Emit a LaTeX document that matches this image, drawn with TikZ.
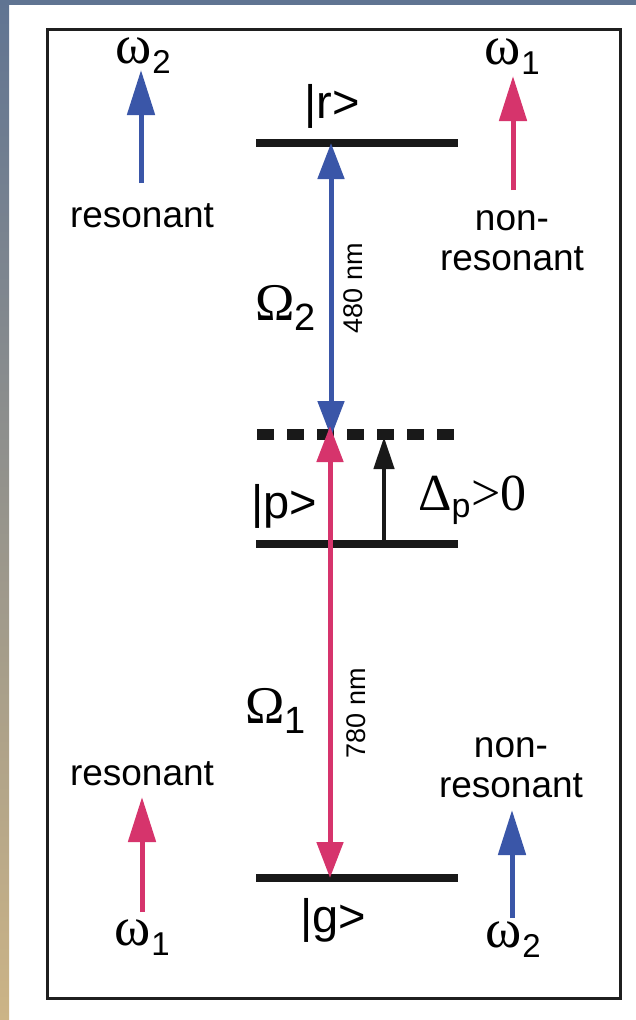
\documentclass[tikz,border=0pt]{standalone}
\usepackage{fontspec}
\setmainfont{Liberation Sans}
\newfontfamily\gr{Liberation Serif}
\usetikzlibrary{arrows.meta}
\definecolor{bl}{RGB}{58,86,168}
\definecolor{pk}{RGB}{214,52,108}
\definecolor{edgetop}{RGB}{96,116,146}
\definecolor{edgemid}{RGB}{154,160,170}
\definecolor{edgebot}{RGB}{204,180,134}
\newcommand{\fs}[1]{\fontsize{#1}{#1}\selectfont}
\newcommand{\omlab}[1]{\gr\fs{55}ω\kern1pt\lower10pt\hbox{\rmfamily\fs{33}#1}}
\tikzset{
  lab/.style={inner sep=0pt, anchor=base, font=\fs{37}},
  statelab/.style={inner sep=0pt, anchor=base west, font=\fs{47}},
  nmlab/.style={inner sep=0pt, anchor=base, font=\fs{27}, rotate=90},
  levelline/.style={line width=7.5pt, black!90},
  dashlevel/.style={line width=11pt, black!90, dash pattern=on 17pt off 13pt},
  dbl/.style={line width=5pt, {Triangle[length=36pt,width=26pt]}-{Triangle[length=36pt,width=26pt]}},
  side/.style={line width=5pt, -{Triangle[length=45pt,width=27pt]}},
  detarr/.style={line width=4.5pt, black!90, -{Triangle[length=32pt,width=20pt]}}
}
\begin{document}
\begin{tikzpicture}[x=1pt,y=-1pt]
\useasboundingbox (0,0) rectangle (636,1020);
\fill[white] (0,0) rectangle (636,1020);
\shade[top color=edgetop, middle color=edgemid, bottom color=edgebot] (0,0) rectangle (9,1020);
\fill[edgetop] (0,0) rectangle (636,5);
\draw[line width=3pt, black!88] (47,29) rectangle (620,998);

% levels
\coordinate (rL) at (256,143); \coordinate (rR) at (458,143);
\coordinate (dL) at (257,434); \coordinate (dR) at (455,434);
\coordinate (pL) at (256,544); \coordinate (pR) at (458,544);
\coordinate (gL) at (256,878); \coordinate (gR) at (458,878);
\draw[levelline] (rL) -- (rR);
\draw[dashlevel] (dL) -- (dR);
\draw[levelline] (pL) -- (pR);
\draw[levelline] (gL) -- (gR);

% central transitions
\coordinate (rC) at (331,143);
\coordinate (dCb) at (331,437);
\coordinate (dCp) at (330,426);
\coordinate (gC) at (330,878);
\draw[dbl, bl] (rC) -- (dCb);
\draw[dbl, pk] (dCp) -- (gC);

% detuning arrow
\coordinate (detS) at (384,544);
\coordinate (detE) at (384,437);
\draw[detarr] (detS) -- (detE);

% side arrows
\coordinate (a1s) at (141,183); \coordinate (a1e) at (141,70);
\coordinate (a2s) at (513,190); \coordinate (a2e) at (513,76);
\coordinate (a3s) at (142,912); \coordinate (a3e) at (142,797);
\coordinate (a4s) at (512,918); \coordinate (a4e) at (512,810);
\draw[side, bl] (a1s) -- (a1e);
\draw[side, pk] (a2s) -- (a2e);
\draw[side, pk] (a3s) -- (a3e);
\draw[side, bl] (a4s) -- (a4e);

% side labels
\node[lab] (resTL) at (142,227) {resonant};
\node[lab] (nonTR) at (512,230) {non-};
\node[lab] (resTR) at (512,270) {resonant};
\node[lab] (resBL) at (142,785) {resonant};
\node[lab] (nonBR) at (511,757) {non-};
\node[lab] (resBR) at (511,797) {resonant};

\node[lab] (w2TL) at (143,63) {\omlab{2}};
\node[lab] (w1TR) at (512,64) {\omlab{1}};
\node[lab] (w1BL) at (142,945) {\omlab{1}};
\node[lab] (w2BR) at (513,947) {\omlab{2}};

% state labels
\node[statelab] (rlab) at (304,118) {|r>};
\node[statelab] (plab) at (251,518) {|p>};
\node[statelab] (glab) at (300,932) {|g>};
\node[inner sep=0pt, anchor=base west] (delta) at (418,510)
  {\gr\fs{52}Δ\lower7pt\hbox{\rmfamily\fs{34}p}\kern1pt>0};

% Rabi labels
\node[inner sep=0pt, anchor=base west] (Om2) at (255,320)
  {\gr\fs{53}Ω\lower10pt\hbox{\rmfamily\fs{38}2}};
\node[inner sep=0pt, anchor=base west] (Om1) at (245,723)
  {\gr\fs{53}Ω\lower10pt\hbox{\rmfamily\fs{38}1}};

% wavelengths
\node[nmlab] (nm480) at (362,288) {480 nm};
\node[nmlab] (nm780) at (365,713) {780 nm};
\end{tikzpicture}
\end{document}
